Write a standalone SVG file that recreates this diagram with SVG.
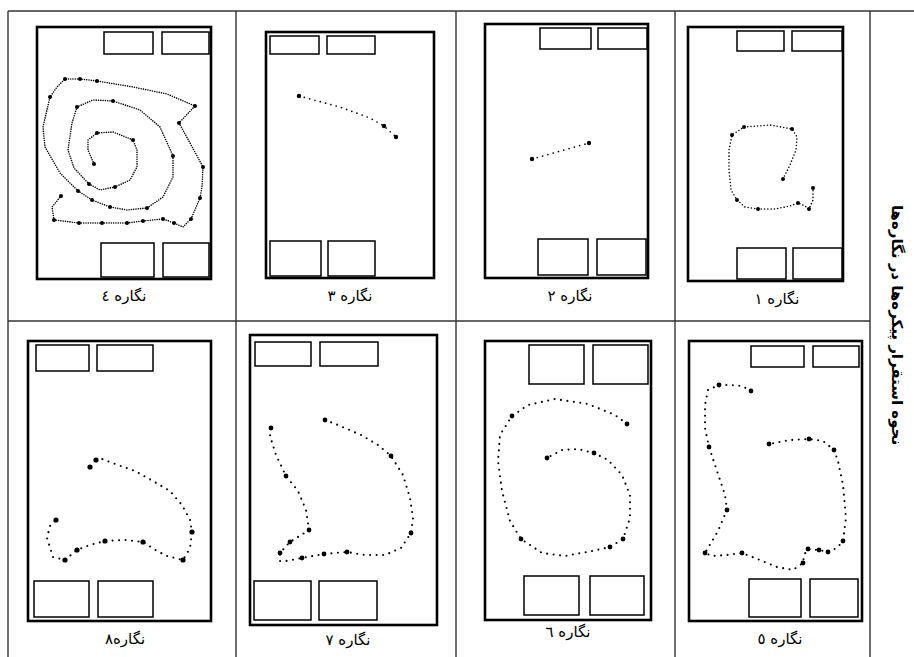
<svg xmlns="http://www.w3.org/2000/svg" width="914" height="657" viewBox="0 0 914 657">
<style>
.grid{stroke:#333;stroke-width:1.4;fill:none}
.frame{fill:#fff;stroke:#000;stroke-width:2.6}
.box{fill:#fff;stroke:#000;stroke-width:1.5}
.dots{fill:none;stroke:#000;stroke-linecap:round;stroke-linejoin:round}
.d1{stroke-width:1.6;stroke-dasharray:0 3.3}
.d4{stroke-width:1.6;stroke-dasharray:0 2.3}
.d2{stroke-width:1.7;stroke-dasharray:0 5.5}
.d5{stroke-width:2.1;stroke-dasharray:0 6.5}
.big{fill:#000}
.lbl{font-family:"DejaVu Sans","Noto Sans",sans-serif;font-size:15px;fill:#000;text-anchor:middle}
.title{font-family:"DejaVu Sans","Noto Sans",sans-serif;font-size:15px;font-weight:bold;fill:#000;text-anchor:middle}
</style>
<rect width="914" height="657" fill="#fff"/>
<g id="table">
<line class="grid" x1="8" y1="11" x2="914" y2="11"/>
<line class="grid" x1="8" y1="11" x2="8" y2="657"/>
<line class="grid" x1="236" y1="11" x2="236" y2="657"/>
<line class="grid" x1="456" y1="11" x2="456" y2="657"/>
<line class="grid" x1="675" y1="11" x2="675" y2="657"/>
<line class="grid" x1="870" y1="11" x2="870" y2="657"/>
<line class="grid" x1="8" y1="321" x2="870" y2="321"/>
</g>
<g id="title">
<text class="title" transform="translate(892,325) rotate(90)" direction="rtl">نحوه استقرار پیکره‌ها در نگاره‌ها</text>
</g>

<g id="fig4">
<rect class="frame" x="37" y="27" width="174" height="252"/>
<rect class="box" x="104" y="32" width="49" height="22"/>
<rect class="box" x="162" y="32" width="47" height="22"/>
<rect class="box" x="101" y="243" width="53" height="34"/>
<rect class="box" x="163" y="243" width="46" height="34"/>
<path class="dots d4" d="M94,164 L88,150 L88,140 L97,133 L113,132 L133,140 L137,150 L137,167 L130,180 L115,187 L100,190 L89,184 L74,168 L68,150 L72,123 L77,107 L93,100 L113,101 L140,110 L160,127 L173,156 L173,177 L163,197 L147,208 L127,210 L110,207 L92,200 L78,191 L60,173 L45,147 L43,127 L50,97 L57,87 L65,79 L80,79 L97,81 L133,87 L167,94 L195,106 L179,123 L190,143 L203,167 L202,187 L200,198 L191,219 L183,227 L174,223 L163,219 L143,221 L127,223 L102,223 L79,223 L54,220 L52,207 L61,196"/>
<g class="big">
<circle cx="94" cy="164" r="2"/><circle cx="97" cy="133" r="2"/><circle cx="133" cy="140" r="2"/><circle cx="115" cy="187" r="2"/><circle cx="89" cy="184" r="2"/><circle cx="77" cy="107" r="2"/><circle cx="113" cy="101" r="2"/><circle cx="173" cy="156" r="2"/><circle cx="147" cy="208" r="2"/><circle cx="110" cy="207" r="2"/><circle cx="92" cy="200" r="2"/><circle cx="78" cy="191" r="2"/><circle cx="50" cy="97" r="2"/><circle cx="65" cy="79" r="2"/><circle cx="80" cy="79" r="2"/><circle cx="97" cy="81" r="2"/><circle cx="195" cy="106" r="2"/><circle cx="179" cy="123" r="2"/><circle cx="203" cy="167" r="2"/><circle cx="200" cy="198" r="2"/><circle cx="191" cy="219" r="2"/><circle cx="174" cy="223" r="2"/><circle cx="163" cy="219" r="2"/><circle cx="143" cy="221" r="2"/><circle cx="127" cy="223" r="2"/><circle cx="102" cy="223" r="2"/><circle cx="79" cy="223" r="2"/><circle cx="54" cy="220" r="2"/><circle cx="61" cy="196" r="2"/>
</g>
<text class="lbl" x="124" y="301">نگاره ٤</text>
</g>

<g id="fig3">
<rect class="frame" x="266" y="32" width="168" height="246"/>
<rect class="box" x="270" y="36" width="49" height="18"/>
<rect class="box" x="327" y="36" width="48" height="18"/>
<rect class="box" x="270" y="241" width="51" height="35"/>
<rect class="box" x="328" y="241" width="47" height="35"/>
<path class="dots d2" d="M299,96 L340,107 L370,118 L384,126 L396,137"/>
<g class="big"><circle cx="299" cy="96" r="2.2"/><circle cx="384" cy="126" r="2.2"/><circle cx="396" cy="137" r="2.2"/></g>
<text class="lbl" x="350" y="301">نگاره ٣</text>
</g>

<g id="fig2">
<rect class="frame" x="485" y="24" width="163" height="254"/>
<rect class="box" x="540" y="28" width="51" height="21"/>
<rect class="box" x="598" y="28" width="49" height="21"/>
<rect class="box" x="538" y="239" width="50" height="36"/>
<rect class="box" x="597" y="239" width="49" height="36"/>
<path class="dots d2" d="M532,159 L589,143"/>
<g class="big"><circle cx="532" cy="159" r="2.2"/><circle cx="589" cy="143" r="2.2"/></g>
<text class="lbl" x="570" y="301">نگاره ٢</text>
</g>

<g id="fig1">
<rect class="frame" x="688" y="27" width="155" height="254"/>
<rect class="box" x="737" y="31" width="47" height="20"/>
<rect class="box" x="792" y="31" width="50" height="20"/>
<rect class="box" x="737" y="248" width="49" height="31"/>
<rect class="box" x="793" y="248" width="49" height="31"/>
<path class="dots d1" d="M783,179 L790,165 L796,150 L797,137 L792,129 L770,125 L744,127 L732,135 L729,150 L729,170 L731,190 L737,200 L745,207 L758,209 L775,209 L790,206 L798,203 L805,206 L809,209 L813,200 L813,188"/>
<g class="big"><circle cx="783" cy="179" r="2"/><circle cx="792" cy="129" r="2"/><circle cx="744" cy="127" r="2"/><circle cx="732" cy="135" r="2"/><circle cx="737" cy="200" r="2"/><circle cx="758" cy="209" r="2"/><circle cx="798" cy="203" r="2"/><circle cx="809" cy="209" r="2"/><circle cx="813" cy="188" r="2"/></g>
<text class="lbl" x="777" y="304">نگاره ١</text>
</g>

<g id="fig8">
<rect class="frame" x="28" y="341" width="183" height="280"/>
<rect class="box" x="36" y="345" width="53" height="26"/>
<rect class="box" x="97" y="345" width="56" height="26"/>
<rect class="box" x="34" y="581" width="55" height="36"/>
<rect class="box" x="98" y="581" width="55" height="36"/>
<path class="dots d5" d="M96,460 L102,459 L118,465 L135,471 L153,481 L170,491 L182,505 L190,520 L192,532 L190,548 L183,560 L167,556 L157,551 L143,542 L125,540 L105,541 L90,545 L77,550 L65,560 L53,557 L47,538 L50,526 L56,520"/>
<g class="big"><circle cx="90" cy="467" r="2.6"/><circle cx="96" cy="460" r="2.6"/><circle cx="192" cy="532" r="2.6"/><circle cx="183" cy="560" r="2.6"/><circle cx="143" cy="542" r="2.6"/><circle cx="105" cy="541" r="2.6"/><circle cx="77" cy="550" r="2.6"/><circle cx="65" cy="560" r="2.6"/><circle cx="56" cy="520" r="2.6"/></g>
<text class="lbl" x="125" y="644">نگاره٨</text>
</g>

<g id="fig7">
<rect class="frame" x="250" y="335" width="187" height="290"/>
<rect class="box" x="255" y="342" width="56" height="24"/>
<rect class="box" x="320" y="342" width="58" height="24"/>
<rect class="box" x="254" y="581" width="57" height="39"/>
<rect class="box" x="319" y="581" width="58" height="39"/>
<path class="dots d5" d="M325,420 L338,425 L361,435 L378,445 L391,456 L403,475 L410,498 L413,518 L411,533 L401,548 L385,555 L365,555 L347,552 L324,554 L302,558 L286,561 L280,561 L280,553 L290,542 L309,530 L306,510 L298,491 L286,476 L276,455 L270,436 L271,428"/>
<g class="big"><circle cx="325" cy="420" r="2.4"/><circle cx="391" cy="456" r="2.4"/><circle cx="411" cy="533" r="2.4"/><circle cx="347" cy="552" r="2.4"/><circle cx="324" cy="554" r="2.4"/><circle cx="302" cy="558" r="2.4"/><circle cx="280" cy="553" r="2.4"/><circle cx="290" cy="542" r="2.4"/><circle cx="309" cy="530" r="2.4"/><circle cx="286" cy="476" r="2.4"/><circle cx="271" cy="428" r="2.4"/></g>
<text class="lbl" x="348" y="645">نگاره ٧</text>
</g>

<g id="fig6">
<rect class="frame" x="485" y="341" width="166" height="279"/>
<rect class="box" x="529" y="345" width="55" height="39"/>
<rect class="box" x="593" y="345" width="55" height="39"/>
<rect class="box" x="524" y="576" width="55" height="39"/>
<rect class="box" x="590" y="576" width="54" height="39"/>
<path class="dots d5" d="M627,424 L615,415 L588,404 L555,399 L528,405 L512,416 L500,435 L498,461 L502,491 L510,521 L521,539 L542,553 L565,556 L592,551 L610,547 L623,539 L630,518 L630,495 L622,475 L608,460 L594,453 L578,449 L562,450 L547,458"/>
<g class="big"><circle cx="627" cy="424" r="2.4"/><circle cx="512" cy="416" r="2.4"/><circle cx="521" cy="539" r="2.4"/><circle cx="610" cy="547" r="2.4"/><circle cx="623" cy="539" r="2.4"/><circle cx="594" cy="453" r="2.4"/><circle cx="547" cy="458" r="2.4"/></g>
<text class="lbl" x="568" y="637">نگاره ٦</text>
</g>

<g id="fig5">
<rect class="frame" x="689" y="341" width="173" height="280"/>
<rect class="box" x="751" y="346" width="53" height="21"/>
<rect class="box" x="813" y="346" width="46" height="21"/>
<rect class="box" x="749" y="579" width="52" height="38"/>
<rect class="box" x="810" y="579" width="48" height="38"/>
<path class="dots d5" d="M751,391 L742,386 L730,385 L719,385 L708,390 L705,405 L705,428 L709,447 L717,471 L725,495 L727,510 L718,531 L708,548 L705,553 L712,556 L727,555 L742,553 L760,560 L777,567 L793,570 L803,563 L804,555 L808,549 L819,550 L828,552 L837,548 L843,541 L846,518 L843,485 L838,461 L834,450 L823,441 L809,439 L790,440 L769,444"/>
<g class="big"><circle cx="751" cy="391" r="2.4"/><circle cx="719" cy="385" r="2.4"/><circle cx="709" cy="447" r="2.4"/><circle cx="727" cy="510" r="2.4"/><circle cx="705" cy="553" r="2.4"/><circle cx="742" cy="553" r="2.4"/><circle cx="803" cy="563" r="2.4"/><circle cx="808" cy="549" r="2.4"/><circle cx="819" cy="550" r="2.4"/><circle cx="828" cy="552" r="2.4"/><circle cx="843" cy="541" r="2.4"/><circle cx="834" cy="450" r="2.4"/><circle cx="809" cy="439" r="2.4"/><circle cx="769" cy="444" r="2.4"/></g>
<text class="lbl" x="780" y="644">نگاره ٥</text>
</g>
</svg>
